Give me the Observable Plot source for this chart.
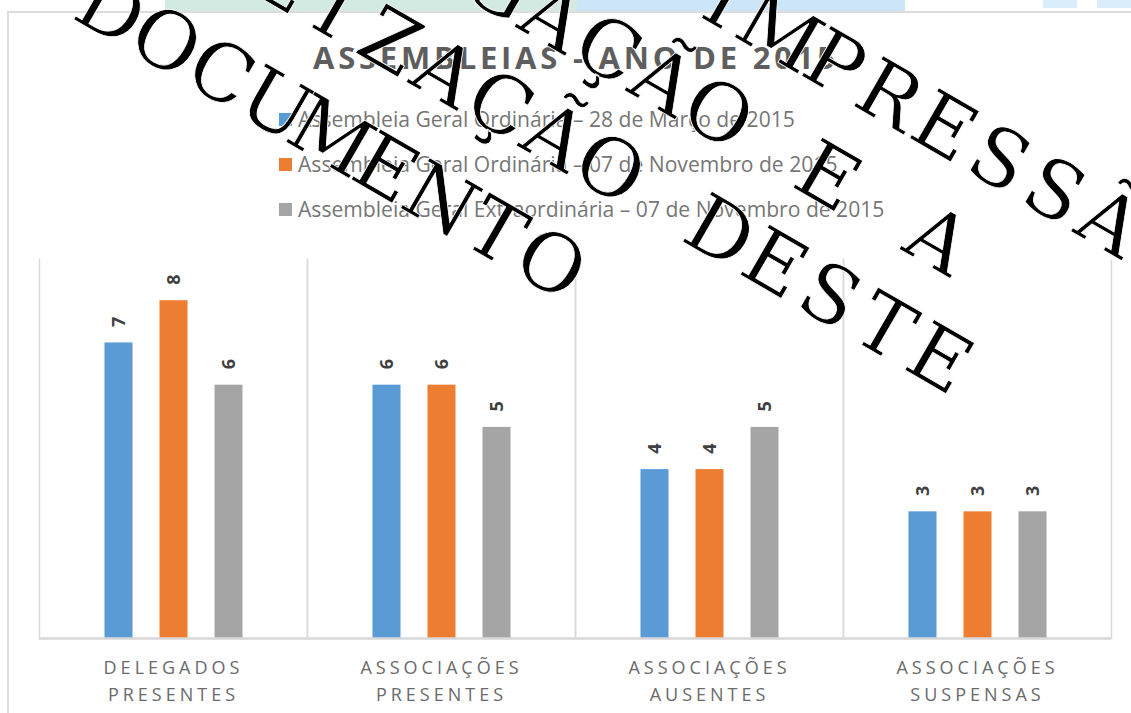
<!DOCTYPE html>
<html>
<head>
<meta charset="utf-8">
<script src="https://cdn.jsdelivr.net/npm/d3@7"></script>
<script src="https://cdn.jsdelivr.net/npm/@observablehq/plot@0.6"></script>
<style>
  html, body { margin: 0; padding: 0; background: #fff; }
  #root { position: relative; width: 1131px; height: 713px; background: #fff; overflow: hidden; font-family: "Open Sans", sans-serif; }
  .abs { position: absolute; }
</style>
</head>
<body>
<div id="root">
  <div class="abs" style="left:165px;top:0;width:412px;height:11px;background:#d2eae2"></div>
  <div class="abs" style="left:577px;top:0;width:328px;height:11px;background:#cde5f9"></div>
  <div class="abs" style="left:1043px;top:0;width:34px;height:8px;background:#d9edfb"></div>
  <div class="abs" style="left:1097px;top:0;width:34px;height:8px;background:#d9edfb"></div>
  <div class="abs" style="left:7px;top:11px;width:1124px;height:2px;background:#dcdcdc"></div>
  <div class="abs" style="left:7px;top:11px;width:2px;height:702px;background:#dcdcdc"></div>
  <svg id="header" class="abs" style="left:0;top:0" width="1131" height="230"></svg>
  <div id="chart" class="abs" style="left:0;top:220px"></div>
  <svg id="wm" class="abs" style="left:0;top:0;pointer-events:none" width="1131" height="713"></svg>
</div>
<script>
// ---------- data ----------
const title = "ASSEMBLEIAS - ANO DE 2015";
const categories = ["DELEGADOS PRESENTES", "ASSOCIAÇÕES PRESENTES", "ASSOCIAÇÕES AUSENTES", "ASSOCIAÇÕES SUSPENSAS"];
const categoryLabels = ["DELEGADOS\nPRESENTES", "ASSOCIAÇÕES\nPRESENTES", "ASSOCIAÇÕES\nAUSENTES", "ASSOCIAÇÕES\nSUSPENSAS"];
const series = [
  "Assembleia Geral Ordinária – 28 de Março de 2015",
  "Assembleia Geral Ordinária – 07 de Novembro de 2015",
  "Assembleia Geral Extraordinária – 07 de Novembro de 2015"
];
const valuesOrdMarco = [7, 6, 4, 3];
const valuesOrdNovembro = [8, 6, 4, 3];
const valuesExtraNovembro = [6, 5, 5, 3];
const colors = ["#5b9bd5", "#ed7d31", "#a5a5a5"];
const watermarkLines = ["IMPRESSÃO", "DIVULGAÇÃO E A", "UTILIZAÇÃO DESTE", "DOCUMENTO"];

const seriesValues = [valuesOrdMarco, valuesOrdNovembro, valuesExtraNovembro];
const data = series.flatMap((s, si) => categories.map((c, ci) => ({category: c, series: s, value: seriesValues[si][ci]})));

// ---------- header: title + legend ----------
const header = d3.select("#header");
header.append("text")
  .attr("x", 313).attr("y", 69)
  .attr("textLength", 522).attr("lengthAdjust", "spacing")
  .style("font-family", "'Open Sans', sans-serif")
  .style("font-weight", "bold").style("font-size", "31px")
  .attr("fill", "#5e5e5e")
  .text(title);

const legendTexts = [];
series.forEach((s, i) => {
  const cy = 120 + i * 45;
  header.append("rect").attr("x", 279).attr("y", cy - 7).attr("width", 13).attr("height", 13).attr("fill", colors[i]);
  const t = header.append("text")
    .attr("x", 0).attr("y", 0)
    .attr("transform", `translate(298,${cy + 7})`)
    .style("font-family", "'Open Sans', sans-serif").style("font-size", "21px")
    .attr("fill", "#767676")
    .text(s);
  legendTexts.push([t, cy]);
});
const w0 = legendTexts[0][0].node().getComputedTextLength();
const k = 497 / w0;
legendTexts.forEach(([t, cy]) => t.attr("transform", `translate(298,${cy + 7}) scale(${k},1)`));

// ---------- chart ----------
const W = 1131, H = 493, mt = 38, mr = 18, mb = 75, ml = 37.5;
const fw = (W - ml - mr) / categories.length, fh = H - mt - mb;

const chart = Plot.plot({
  width: W, height: H,
  marginTop: mt, marginRight: mr, marginBottom: mb, marginLeft: ml,
  style: {fontFamily: "'Open Sans', sans-serif", background: "transparent", overflow: "visible"},
  facet: {data, x: "category"},
  fx: {domain: categories, padding: 0, axis: null, label: null},
  x: {domain: series, paddingInner: 0.4955, paddingOuter: 1.171, axis: null, label: null},
  y: {domain: [0, 9], axis: null, label: null},
  color: {domain: series, range: colors},
  marks: [
    Plot.frame({stroke: "#d9d9d9", strokeWidth: 1.5, strokeDasharray: `0 ${fw} ${2 * fh + fw + 10}`}),
    Plot.barY(data, {x: "series", y: "value", fill: "series"}),
    Plot.ruleY([0], {stroke: "#d9d9d9", strokeWidth: 2.5}),
    Plot.text(data, {
      x: "series", y: "value", text: d => String(d.value),
      rotate: -90, dy: -21, textAnchor: "middle", lineAnchor: "middle",
      fontSize: 18, fontWeight: "bold", fill: "#404040"
    }),
    Plot.text(data, {
      filter: d => d.series === series[0],
      text: d => categoryLabels[categories.indexOf(d.category)],
      frameAnchor: "bottom", dy: 40.5, lineAnchor: "middle", lineHeight: 1.5,
      fontSize: 18, fill: "#6a6a6a"
    })
  ]
});
chart.querySelectorAll("text").forEach(t => {
  if (t.textContent.length > 2) t.style.letterSpacing = "4px";
});
document.getElementById("chart").appendChild(chart);

// ---------- watermark overlay ----------
const wmStart = [627.7, 107, 41, 101];
const wmBase = [-335, -234, -132, -20];
const adv = 63.5;
const wm = d3.select("#wm").append("g").attr("transform", "rotate(30)");
watermarkLines.forEach((line, li) => {
  const chars = Array.from(line.normalize("NFC"));
  const xs = chars.map((c, i) => (wmStart[li] + i * adv).toFixed(1)).join(" ");
  wm.append("text")
    .attr("x", xs).attr("y", wmBase[li])
    .attr("text-anchor", "middle")
    .style("font-family", "'DejaVu Serif', serif").style("font-size", "80px")
    .attr("fill", "#000").attr("stroke", "#fff").attr("stroke-width", 0.8)
    .text(line);
});
</script>
</body>
</html>
